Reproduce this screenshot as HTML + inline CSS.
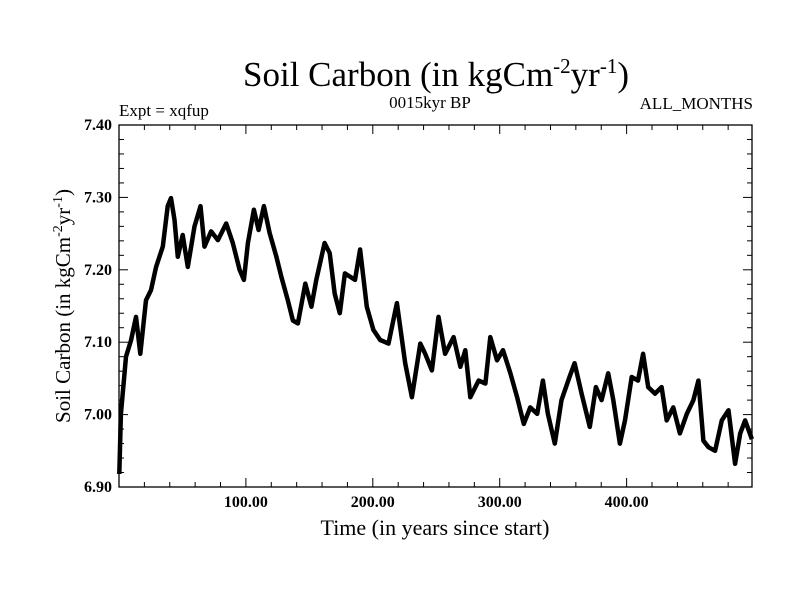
<!DOCTYPE html>
<html><head><meta charset="utf-8">
<style>
html,body{margin:0;padding:0;background:#fff;}
svg{display:block;font-family:"Liberation Serif",serif;}
</style></head>
<body>
<svg id="chart" width="800" height="600" viewBox="0 0 800 600" xmlns="http://www.w3.org/2000/svg">
<rect width="800" height="600" fill="#fff"/>
<text x="436" y="86" text-anchor="middle" font-size="35">Soil Carbon (in kgCm<tspan dy="-13" font-size="21">-2</tspan><tspan dy="13">yr</tspan><tspan dy="-13" font-size="21">-1</tspan><tspan dy="13">)</tspan></text>
<text x="119" y="116" font-size="17">Expt = xqfup</text>
<text x="430" y="108" text-anchor="middle" font-size="17">0015kyr BP</text>
<text x="753" y="109" text-anchor="end" font-size="17">ALL_MONTHS</text>
<text x="435" y="535" text-anchor="middle" font-size="22">Time (in years since start)</text>
<text transform="translate(70,306) rotate(-90)" text-anchor="middle" font-size="21">Soil Carbon (in kgCm<tspan dy="-8" font-size="14">-2</tspan><tspan dy="8">yr</tspan><tspan dy="-8" font-size="14">-1</tspan><tspan dy="8">)</tspan></text>
<g id="axes"></g>
<g id="series"></g>
</svg>
<script>
const years=[0.2,1.5,5.5,9.5,13.4,16.8,21.3,25.2,29.2,34.5,38.4,41,43.7,46.3,50.2,54.2,59.5,64.2,67.4,72.6,77.9,84.5,89.7,95,98.4,101.6,106.3,110,114.2,118.7,124,128,133,137,141,146.8,151.6,155.5,162,166,170,174,178,186,190,195.3,200.5,205.8,212.4,219,225.5,230.8,237.4,241.3,246.6,251.8,257,263.7,269,272.9,276.8,283.4,288.7,292.6,297.9,302.6,308.4,313.7,319,324,329.5,334,338,343.4,348.7,355,359,364.5,371,375.8,380.3,385.5,389.5,394.7,398.7,404,409,413,417,422.4,427.6,431.6,436.8,442,447.4,452.6,456.6,460.5,464.5,469.7,475,480.3,485.5,489.5,493.4,498.7];
const carbon=[6.918,7.001,7.080,7.103,7.135,7.084,7.158,7.172,7.204,7.232,7.288,7.299,7.269,7.218,7.248,7.204,7.26,7.288,7.232,7.253,7.241,7.264,7.237,7.20,7.186,7.237,7.283,7.255,7.288,7.251,7.218,7.19,7.158,7.13,7.126,7.181,7.149,7.186,7.237,7.223,7.167,7.14,7.195,7.186,7.228,7.149,7.117,7.103,7.098,7.154,7.071,7.024,7.098,7.084,7.061,7.135,7.084,7.107,7.066,7.089,7.024,7.047,7.043,7.107,7.075,7.089,7.057,7.024,6.987,7.01,7.001,7.047,7.001,6.96,7.02,7.052,7.071,7.029,6.983,7.038,7.02,7.057,7.02,6.96,6.992,7.052,7.047,7.084,7.038,7.029,7.038,6.992,7.01,6.974,7.001,7.02,7.047,6.964,6.955,6.95,6.992,7.006,6.932,6.974,6.992,6.966];
const xTickValues=[100,200,300,400];
const xTickLabels=["100.00","200.00","300.00","400.00"];
const yTickValues=[6.9,7.0,7.1,7.2,7.3,7.4];
const yTickLabels=["6.90","7.00","7.10","7.20","7.30","7.40"];
const X0=119,X1=752,Y0=487,Y1=125,XMIN=0,XMAX=498.8,YMIN=6.9,YMAX=7.4;
function sx(v){return X0+(v-XMIN)/(XMAX-XMIN)*(X1-X0);}
function sy(v){return Y0-(v-YMIN)/(YMAX-YMIN)*(Y0-Y1);}
const NS="http://www.w3.org/2000/svg";
const axes=document.getElementById('axes');
function mk(tag,attrs,parent){const e=document.createElementNS(NS,tag);for(const k in attrs)e.setAttribute(k,attrs[k]);parent.appendChild(e);return e;}
const frame=mk('rect',{x:X0,y:Y1,width:X1-X0,height:Y0-Y1,fill:'none',stroke:'#000','stroke-width':1.3},axes);


for(let v=20;v<XMAX;v+=20){const x=sx(v);const major=(v%100===0);const L=major?9:5;
 const t1=mk('line',{x1:x,x2:x,y1:Y0,y2:Y0-L,stroke:'#000','stroke-width':1},axes);
 
 
 const t2=mk('line',{x1:x,x2:x,y1:Y1,y2:Y1+L,stroke:'#000','stroke-width':1},axes);
 
 }
for(let i=1;i<25;i++){const v=YMIN+i*0.02;const y=sy(v);const major=(i%5===0);const L=major?9:5;
 const t1=mk('line',{x1:X0,x2:X0+L,y1:y,y2:y,stroke:'#000','stroke-width':1},axes);
 
 
 const t2=mk('line',{x1:X1,x2:X1-L,y1:y,y2:y,stroke:'#000','stroke-width':1},axes);
 
 }
xTickValues.forEach((v,i)=>{const t=mk('text',{x:sx(v),y:507,'text-anchor':'middle','font-size':16,'font-weight':'bold'},axes);t.textContent=xTickLabels[i];
 
 });
yTickValues.forEach((v,i)=>{const t=mk('text',{x:112,y:sy(v)+5,'text-anchor':'end','font-size':16,'font-weight':'bold'},axes);t.textContent=yTickLabels[i];
 
 });
const series=document.getElementById('series');
const d=years.map((v,i)=>(i?'L':'M')+sx(v).toFixed(1)+','+sy(carbon[i]).toFixed(1)).join('');
const p=mk('path',{d:d,fill:'none',stroke:'#000','stroke-width':4.5,'stroke-linejoin':'round'},series);


</script>
</body></html>
